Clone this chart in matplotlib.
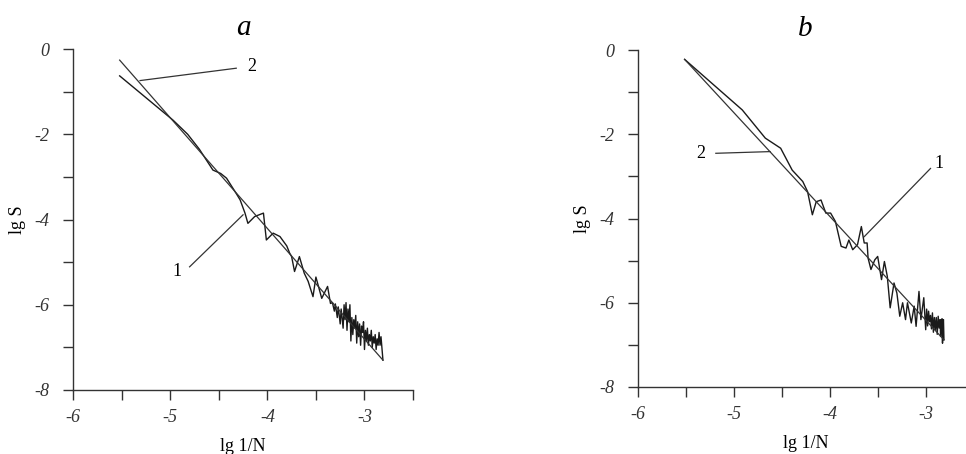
import matplotlib
matplotlib.use("Agg")
import matplotlib.pyplot as plt

# lg S vs lg 1/N, two samples (a, b): curve 1 = data, line 2 = linear fit

SERIF = "Liberation Serif"

# panel a, curve 1
a_x = [-5.52, -4.97, -4.82, -4.70, -4.56, -4.48, -4.42, -4.32, -4.28, -4.23, -4.20,
       -4.13, -4.04, -4.01, -3.94, -3.87, -3.80, -3.77, -3.75, -3.72, -3.67, -3.62,
       -3.58, -3.53, -3.50, -3.44, -3.38, -3.35,
       -3.33, -3.31, -3.30, -3.28, -3.27, -3.25, -3.24, -3.22, -3.21, -3.20, -3.19,
       -3.18, -3.17, -3.16, -3.15, -3.14, -3.13, -3.12, -3.11, -3.10, -3.09, -3.08,
       -3.07, -3.06, -3.05, -3.04, -3.03, -3.02, -3.01, -3.00, -2.99, -2.98, -2.97,
       -2.96, -2.95, -2.94, -2.93, -2.92, -2.91, -2.90, -2.89, -2.88, -2.87, -2.86,
       -2.85, -2.84, -2.83, -2.81]
a_y = [-0.63, -1.67, -2.00, -2.35, -2.84, -2.92, -3.03, -3.39, -3.54, -3.85, -4.09,
       -3.93, -3.85, -4.48, -4.32, -4.40, -4.62, -4.79, -4.87, -5.22, -4.87, -5.26,
       -5.45, -5.81, -5.35, -5.85, -5.57, -5.97,
       -5.95, -6.15, -5.98, -6.30, -6.05, -6.45, -6.10, -6.55, -6.00, -6.35, -5.95,
       -6.60, -6.10, -6.40, -6.00, -6.85, -6.30, -6.70, -6.35, -6.55, -6.25, -6.90,
       -6.40, -6.75, -6.45, -6.95, -6.50, -6.65, -6.40, -7.05, -6.60, -6.85, -6.55,
       -6.95, -6.70, -6.85, -6.60, -7.00, -6.75, -6.90, -6.70, -7.05, -6.80, -6.95,
       -6.65, -6.95, -6.75, -7.30]
# panel a, line 2 (end points)
a_fit_x = [-5.52, -2.81]
a_fit_y = [-0.26, -7.30]

# panel b, curve 1
b_x = [-5.51, -4.91, -4.67, -4.51, -4.39, -4.28, -4.23, -4.18, -4.14, -4.09, -4.04,
       -3.99, -3.94, -3.88, -3.83, -3.80, -3.76, -3.71, -3.67, -3.64, -3.61, -3.60,
       -3.57, -3.53, -3.50, -3.46, -3.43, -3.40, -3.37, -3.33, -3.30, -3.27, -3.24,
       -3.21, -3.19, -3.15, -3.12, -3.10, -3.07, -3.05, -3.02, -3.00, -2.99, -2.98,
       -2.97, -2.96, -2.95, -2.94, -2.93, -2.92, -2.91, -2.90, -2.89, -2.88, -2.87,
       -2.86, -2.85, -2.845, -2.84, -2.835, -2.83, -2.825, -2.82, -2.815, -2.81]
b_y = [-0.22, -1.42, -2.09, -2.33, -2.85, -3.12, -3.36, -3.91, -3.60, -3.56, -3.87,
       -3.87, -4.07, -4.66, -4.70, -4.51, -4.74, -4.62, -4.19, -4.58, -4.58, -4.94,
       -5.21, -4.98, -4.90, -5.45, -5.02, -5.37, -6.12, -5.53, -5.77, -6.32, -6.00,
       -6.40, -6.00, -6.48, -6.08, -6.56, -5.73, -6.40, -5.88, -6.64, -6.15, -6.55,
       -6.20, -6.45, -6.30, -6.62, -6.24, -6.70, -6.35, -6.64, -6.35, -6.75, -6.32,
       -6.60, -6.40, -6.80, -6.50, -6.72, -6.38, -6.96, -6.45, -6.40, -6.88]
# panel b, line 2 (end points)
b_fit_x = [-5.51, -2.81]
b_fit_y = [-0.22, -6.88]

x_labels = [-6, -5, -4, -3]
y_labels = [-8, -6, -4, -2, 0]

fig = plt.figure(figsize=(9.66, 4.54), dpi=100)
ax_a = fig.add_axes([0.0756, 0.141, 0.352, 0.751])
ax_b = fig.add_axes([0.660, 0.1476, 0.348, 0.742])

panels = [
    (ax_a, a_x, a_y, a_fit_x, a_fit_y, "a",
     [("2", (-5.31, -0.74), (-4.32, -0.45), (-4.16, -0.41)),
      ("1", (-4.25, -3.89), (-4.80, -5.11), (-4.93, -5.22))]),
    (ax_b, b_x, b_y, b_fit_x, b_fit_y, "b",
     [("2", (-4.62, -2.41), (-5.185, -2.45), (-5.34, -2.45)),
      ("1", (-3.64, -4.43), (-2.95, -2.81), (-2.86, -2.69))]),
]

for ax, xs, ys, fx, fy, title, notes in panels:
    ax.plot(xs, ys, color="#1a1a1a", lw=1.0, clip_on=False)
    ax.plot(fx, fy, color="#333333", lw=0.9, clip_on=False)

    # callout labels with their leader lines
    for label, tip, start, txt in notes:
        ax.plot([start[0], tip[0]], [start[1], tip[1]], color="#333333", lw=0.9)
        ax.text(txt[0], txt[1], label, family=SERIF, fontsize=13,
                ha="center", va="center")

    ax.set_xlim(-6, -2.5)
    ax.set_ylim(-8, 0)
    ax.spines["top"].set_visible(False)
    ax.spines["right"].set_visible(False)
    for s in ("left", "bottom"):
        ax.spines[s].set_linewidth(1.0)
        ax.spines[s].set_color("#333333")

    ax.set_xticks(x_labels)
    ax.set_xticks([-5.5, -4.5, -3.5, -2.5], minor=True)
    ax.set_yticks(y_labels)
    ax.set_yticks([-7, -5, -3, -1], minor=True)
    ax.tick_params(which="both", direction="out", length=7, width=1.0,
                   color="#333333")
    ax.tick_params(axis="x", which="major", pad=7)
    ax.tick_params(axis="y", which="major", pad=10)
    ax.set_xticklabels([str(v) for v in x_labels])
    ax.set_yticklabels([str(v) for v in y_labels])
    for lbl in ax.get_xticklabels() + ax.get_yticklabels():
        lbl.set_family(SERIF)
        lbl.set_style("italic")
        lbl.set_fontsize(13)
        lbl.set_color("#333333")

    ax.set_xlabel("lg 1/N", family=SERIF, fontsize=13, labelpad=8)
    ax.set_ylabel("lg S", family=SERIF, fontsize=13, labelpad=6)
    ax.set_title(title, family=SERIF, style="italic", fontsize=21, pad=10)

fig.savefig("out.png", dpi=100)
